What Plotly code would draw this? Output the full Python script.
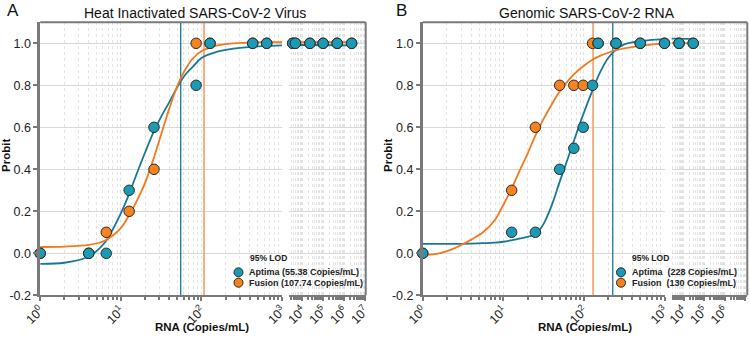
import plotly.graph_objects as go

W, H = 750, 338

# ---------------- Panel A : Heat Inactivated SARS-CoV-2 Virus ----------------
rna_A = [1, 4, 6.6, 12.7, 25.8, 86, 128, 433, 646, 3550, 4790, 23400, 100000, 468000, 2290000]
aptima_A = [0, 0, 0, 0.3, 0.6, 0.8, 1, 1, 1, 1, 1, 1, 1, 1, 1]
fusion_A = [0, 0, 0.1, 0.2, 0.4, 1, 1, 1, 1, 1, 1, 1, 1, 1, 1]
lod_aptima_A = 55.38
lod_fusion_A = 107.74

fit_x_A = [1, 2, 4, 6.3, 10, 12.6, 15.8, 20, 25, 31.6, 40, 50, 63, 79, 100, 158, 251, 501, 1000, 2290000]
fit_aptima_A = [-0.05, -0.045, -0.015, 0.05, 0.19, 0.28, 0.38, 0.48, 0.57, 0.65, 0.72, 0.79, 0.85, 0.89, 0.93, 0.96, 0.975, 0.985, 0.99, 0.99]
fit_fusion_A = [0.03, 0.032, 0.04, 0.06, 0.12, 0.18, 0.25, 0.335, 0.44, 0.565, 0.69, 0.795, 0.875, 0.93, 0.962, 0.99, 1.0, 1.005, 1.005, 1.005]

# ---------------- Panel B : Genomic SARS-CoV-2 RNA ----------------
rna_B = [1, 12.7, 25, 50, 75, 98, 128, 150, 250, 500, 1000, 6000, 29500]
aptima_B = [0, 0.1, 0.1, 0.4, 0.5, 0.6, 0.8, 1, 1, 1, 1, 1, 1]
fusion_B = [0, 0.3, 0.6, 0.8, 0.8, 0.8, 1, 1, 1, 1, 1, 1, 1]
lod_aptima_B = 228
lod_fusion_B = 130

fit_x_B = [1, 1.6, 2.5, 3.2, 4, 5.6, 7.9, 10, 12.6, 15.8, 20, 25, 31.6, 40, 50, 63, 79, 100, 126, 158, 200, 251, 316, 501, 1000, 29500]
fit_aptima_B = [0.045, 0.045, 0.045, 0.045, 0.046, 0.048, 0.051, 0.055, 0.062, 0.07, 0.078, 0.09, 0.14, 0.23, 0.34, 0.45, 0.56, 0.67, 0.77, 0.86, 0.93, 0.97, 0.995, 1.01, 1.02, 1.02]
fit_fusion_B = [-0.01, 0.0, 0.025, 0.045, 0.065, 0.10, 0.16, 0.23, 0.305, 0.39, 0.475, 0.56, 0.64, 0.71, 0.77, 0.82, 0.86, 0.893, 0.92, 0.94, 0.955, 0.967, 0.976, 0.988, 0.998, 1.0]

major_ticks_1 = [1, 10, 100, 1000]
major_ticks_2 = [1e4, 1e5, 1e6, 1e7]
tick_text_1 = ["10<sup>0</sup>", "10<sup>1</sup>", "10<sup>2</sup>", "10<sup>3</sup>"]
tick_text_2 = ["10<sup>4</sup>", "10<sup>5</sup>", "10<sup>6</sup>", "10<sup>7</sup>"]
y_ticks = [-0.2, 0.0, 0.2, 0.4, 0.6, 0.8, 1.0]
y_tick_text = ["-0.2", "0.0", "0.2", "0.4", "0.6", "0.8", "1.0"]

TEAL = "#1a9ab4"
TEAL_LINE = "#17789a"
ORANGE = "#f7821e"
ORANGE_LINE = "#f5791c"
ORANGE_LOD = "#f7a774"
EDGE = "#2b2b2b"
FONT = "Arial, Liberation Sans, sans-serif"
AXIS_COLOR = "#7a7a7a"

minor_1 = [m * d for d in (1, 10, 100) for m in range(2, 10)]
minor_2 = [m * d for d in (1e3, 1e4, 1e5, 1e6) for m in range(2, 10)]

def px(x):
    return x / W

def py(y):
    return 1 - y / H

y_dom = [py(295.3), py(22.3)]
panels = {
    "A": dict(seg1=[px(40.2), px(282.0)], seg2=[px(288.7), px(365.7)], r2=[3.36, 7.03]),
    "B": dict(seg1=[px(422.7), px(664.5)], seg2=[px(671.7), px(747.3)], r2=[3.42, 7.11]),
}

fig = go.Figure()

def xaxis_cfg(domain, rng, tickvals, ticktext, minor_vals, anchor):
    return dict(
        type="log", domain=domain, range=rng, anchor=anchor, automargin=False,
        tickmode="array", tickvals=tickvals,
        ticktext=ticktext, tickangle=-45, ticks="outside", ticklen=4, tickwidth=1.5,
        ticklabelstandoff=-3,
        tickcolor=AXIS_COLOR, showline=True, linecolor=AXIS_COLOR, linewidth=2,
        showgrid=True, gridcolor="#e2e2e2", griddash="dot", gridwidth=1,
        tickfont=dict(family=FONT, size=12.5, color="#222"),
        minor=dict(tickmode="array", tickvals=minor_vals, ticks="outside", ticklen=3,
                   tickcolor=AXIS_COLOR, showgrid=True, gridcolor="#e4e4e4", griddash="dot"),
        zeroline=False,
    )

def yaxis_cfg(anchor, labels, match=None):
    d = dict(
        domain=y_dom, range=[-0.2, 1.1], anchor=anchor, automargin=False, tickmode="array",
        tickvals=y_ticks, ticktext=y_tick_text, showgrid=True, gridcolor="#d9d9d9",
        gridwidth=1, zeroline=False,
        tickfont=dict(family=FONT, size=12.5, color="#222"),
    )
    if labels:
        d.update(ticks="outside", ticklen=4, tickwidth=1.5, tickcolor=AXIS_COLOR,
                 showline=True, linecolor=AXIS_COLOR, linewidth=2.5, showticklabels=True)
    else:
        d.update(showticklabels=False, ticks="", showline=False)
    if match:
        d["matches"] = match
    return d

ax_ids = {"A": ("x", "y", "x2", "y2"), "B": ("x3", "y3", "x4", "y4")}
layout_axes = {}
for key, (xa, ya, xb, yb) in ax_ids.items():
    p = panels[key]
    layout_axes["xaxis" + xa[1:]] = xaxis_cfg(p["seg1"], [0, 3], major_ticks_1, tick_text_1, minor_1, ya)
    layout_axes["xaxis" + xb[1:]] = xaxis_cfg(p["seg2"], p["r2"], major_ticks_2, tick_text_2, minor_2, yb)
    layout_axes["yaxis" + ya[1:]] = yaxis_cfg(xa, True)
    layout_axes["yaxis" + yb[1:]] = yaxis_cfg(xb, False, match=ya)
fig.update_layout(**layout_axes)

datasets = {
    "A": (rna_A, aptima_A, fusion_A, fit_x_A, fit_aptima_A, fit_fusion_A, lod_aptima_A, lod_fusion_A),
    "B": (rna_B, aptima_B, fusion_B, fit_x_B, fit_aptima_B, fit_fusion_B, lod_aptima_B, lod_fusion_B),
}

shapes = []
for key, (rna, apt, fus, fx, fa, ff, la, lf) in datasets.items():
    xa, ya, xb, yb = ax_ids[key]
    fig.add_trace(go.Scatter(x=[la, la], y=[-0.2, 1.1], mode="lines", xaxis=xa, yaxis=ya,
                             line=dict(color=TEAL_LINE, width=1.3), showlegend=False, hoverinfo="skip"))
    fig.add_trace(go.Scatter(x=[lf, lf], y=[-0.2, 1.1], mode="lines", xaxis=xa, yaxis=ya,
                             line=dict(color=ORANGE_LOD, width=1.8), showlegend=False, hoverinfo="skip"))
    for (xx, yy, seg) in ((xa, ya, 1), (xb, yb, 2)):
        fig.add_trace(go.Scatter(x=fx, y=fa, mode="lines", xaxis=xx, yaxis=yy,
                                 line=dict(color=TEAL_LINE, width=1.8, shape="spline", smoothing=0.9),
                                 showlegend=False, hoverinfo="skip"))
        fig.add_trace(go.Scatter(x=fx, y=ff, mode="lines", xaxis=xx, yaxis=yy,
                                 line=dict(color=ORANGE_LINE, width=1.8, shape="spline", smoothing=0.9),
                                 showlegend=False, hoverinfo="skip"))
        if seg == 1:
            idx = [i for i, v in enumerate(rna) if v <= 1000]
        else:
            idx = [i for i, v in enumerate(rna) if v > 1000]
        fig.add_trace(go.Scatter(x=[rna[i] for i in idx], y=[fus[i] for i in idx], mode="markers",
                                 xaxis=xx, yaxis=yy, cliponaxis=False, showlegend=False,
                                 marker=dict(size=10.5, color=ORANGE, line=dict(color=EDGE, width=1))))
        fig.add_trace(go.Scatter(x=[rna[i] for i in idx], y=[apt[i] for i in idx], mode="markers",
                                 xaxis=xx, yaxis=yy, cliponaxis=False, showlegend=False,
                                 marker=dict(size=10.5, color=TEAL, line=dict(color=EDGE, width=1))))
    p = panels[key]
    shapes.append(dict(type="line", xref="paper", yref="paper", x0=p["seg1"][0], x1=p["seg2"][1],
                       y0=y_dom[1], y1=y_dom[1], line=dict(color=AXIS_COLOR, width=2)))
    shapes.append(dict(type="line", xref="paper", yref="paper", x0=p["seg2"][1], x1=p["seg2"][1],
                       y0=y_dom[0], y1=y_dom[1], line=dict(color=AXIS_COLOR, width=2)))

legend_pos = {"A": (238.5, 247.5, 249), "B": (621.0, 631.0, 631)}
legend_text = {
    "A": ["<b>Aptima (55.38 Copies/mL)</b>", "<b>Fusion (107.74 Copies/mL)</b>"],
    "B": ["<b>Aptima  (228 Copies/mL)</b>", "<b>Fusion  (130 Copies/mL)</b>"],
}
annotations = []
for key, (mx, tx, hx) in legend_pos.items():
    for j, (col, yy) in enumerate(((TEAL, 272.3), (ORANGE, 282.7))):
        r = 4.5
        shapes.append(dict(type="circle", xref="paper", yref="paper",
                           x0=px(mx - r), x1=px(mx + r), y0=py(yy + r), y1=py(yy - r),
                           fillcolor=col, line=dict(color=EDGE, width=1)))
        annotations.append(dict(x=px(tx), y=py(yy), xref="paper", yref="paper", xanchor="left",
                                yanchor="middle", showarrow=False, text=legend_text[key][j],
                                borderpad=0, font=dict(family=FONT, size=9, color="#222")))
    annotations.append(dict(x=px(hx), y=py(258), xref="paper", yref="paper", xanchor="left",
                            yanchor="middle", showarrow=False, text="<b>95% LOD</b>", borderpad=0,
                            font=dict(family=FONT, size=8.5, color="#222")))

titles = [("Heat Inactivated SARS-CoV-2 Virus", 195, "A", 13.5), ("Genomic SARS-CoV-2 RNA", 587, "B", 401.5)]
for t, cx, letter, lx in titles:
    annotations.append(dict(x=px(cx), y=py(12.5), xref="paper", yref="paper", xanchor="center",
                            yanchor="middle", showarrow=False, text=t,
                            font=dict(family=FONT, size=14, color="#111")))
    annotations.append(dict(x=px(lx), y=py(10), xref="paper", yref="paper", xanchor="center",
                            yanchor="middle", showarrow=False, text=letter,
                            font=dict(family=FONT, size=17, color="#111")))

for cx in (202, 585):
    annotations.append(dict(x=px(cx), y=py(327), xref="paper", yref="paper", xanchor="center",
                            yanchor="middle", showarrow=False, text="<b>RNA (Copies/mL)</b>",
                            font=dict(family=FONT, size=11.5, color="#111")))
for cx in (6, 388):
    annotations.append(dict(x=px(cx), y=py(156), xref="paper", yref="paper", xanchor="center",
                            yanchor="middle", showarrow=False, text="<b>Probit</b>", textangle=-90,
                            font=dict(family=FONT, size=11.5, color="#111")))

fig.update_layout(
    width=W, height=H, autosize=False,
    margin=dict(l=0, r=0, t=0, b=0, autoexpand=False),
    paper_bgcolor="white", plot_bgcolor="white",
    shapes=shapes, annotations=annotations, showlegend=False,
    font=dict(family=FONT),
)

fig.write_html("out.html", config={"displayModeBar": False},
               post_script="document.body.style.margin='0px';document.body.style.padding='0px';")
